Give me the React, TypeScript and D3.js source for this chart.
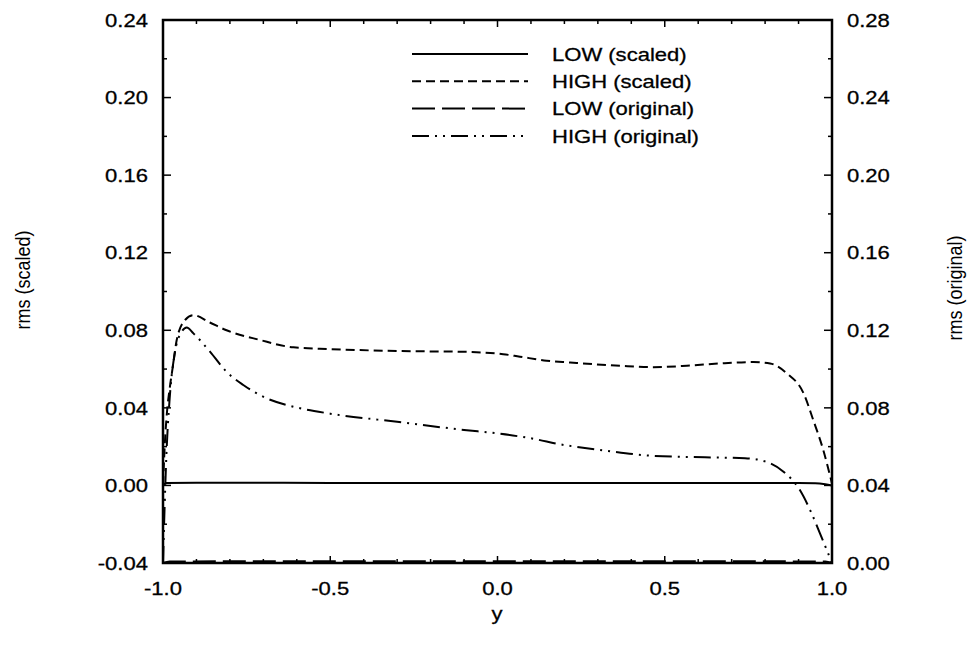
import React, { useEffect, useRef } from 'react'
import * as d3 from 'd3'

// wall-normal position and rms values
const lowScaledY = [-1, -0.99, -0.9, -0.5, 0, 0.5, 0.9, 0.95, 0.98, 1]
const lowScaledV = [0, 0.0012, 0.0014, 0.0013, 0.0012, 0.0012, 0.0012, 0.0011, 0.0006, 0]

const highScaledY = [-1, -0.995, -0.988, -0.98, -0.97, -0.959, -0.934, -0.909, -0.86, -0.81, -0.71, -0.61, -0.5, -0.3, -0.1, -0.05, 0.017, 0.067, 0.147, 0.217, 0.366, 0.466, 0.566, 0.665, 0.765, 0.815, 0.865, 0.915, 0.944, 0.974, 1.0]
const highScaledV = [0, 0.02, 0.038, 0.05, 0.062, 0.075, 0.0853, 0.0878, 0.084, 0.08, 0.075, 0.0712, 0.0703, 0.0693, 0.0689, 0.0686, 0.0677, 0.0664, 0.0643, 0.0634, 0.0617, 0.061, 0.0617, 0.0629, 0.0636, 0.0629, 0.0578, 0.0475, 0.0337, 0.0182, 0.001]

// these two are plotted against the right axis
const lowOrigY = [-1, -0.98, -0.5, 0, 0.5, 0.98, 1]
const lowOrigV = [0, 0.0008, 0.0009, 0.0009, 0.0009, 0.0008, 0]

const highOrigY = [-1, -0.995, -0.99, -0.98, -0.965, -0.945, -0.929, -0.909, -0.859, -0.81, -0.76, -0.69, -0.61, -0.5, -0.3, -0.1, 0, 0.1, 0.2, 0.25, 0.32, 0.47, 0.62, 0.74, 0.8, 0.855, 0.904, 0.939, 0.964, 1.0]
const highOrigV = [0, 0.03, 0.055, 0.085, 0.108, 0.119, 0.1215, 0.1184, 0.1089, 0.0986, 0.0918, 0.0849, 0.0806, 0.077, 0.0728, 0.0686, 0.0668, 0.0643, 0.0608, 0.0596, 0.058, 0.0552, 0.0545, 0.054, 0.0524, 0.0471, 0.0376, 0.0256, 0.0153, 0]

const xTicks = [-1.0, -0.5, 0.0, 0.5, 1.0]
const leftTicks = [-0.04, 0.0, 0.04, 0.08, 0.12, 0.16, 0.2, 0.24]
const rightTicks = [0.0, 0.04, 0.08, 0.12, 0.16, 0.2, 0.24, 0.28]

const legendLabels = ['LOW (scaled)', 'HIGH (scaled)', 'LOW (original)', 'HIGH (original)']

const FONT = '"Liberation Sans", Arial, Helvetica, sans-serif'
const STRETCH = 1.16
const FSIZE = 19

// plain hyphen for negatives, like the original plot
const fmt = (spec) => (v) => d3.format(spec)(v).replace('\u2212', '-')

export default function App() {
    const ref = useRef<SVGSVGElement>(null)

    useEffect(() => {
        const svg = d3.select(ref.current)
        svg.selectAll('*').remove()

        const left = 163, right = 832, top = 20, bottom = 563

        const x = d3.scaleLinear().domain([-1, 1]).range([left, right])
        const yL = d3.scaleLinear().domain([-0.04, 0.24]).range([bottom, top])
        const yR = d3.scaleLinear().domain([0, 0.28]).range([bottom, top])

        const series = [
            { ys: lowScaledY, vs: lowScaledV, scale: yL, dash: null },
            { ys: highScaledY, vs: highScaledV, scale: yL, dash: '9,5' },
            { ys: lowOrigY, vs: lowOrigV, scale: yR, dash: '23,7' },
            { ys: highOrigY, vs: highOrigV, scale: yR, dash: '17,6,2,6,2,6' },
        ]

        // ticks (inward), major and minor
        const xMinor = d3.range(-10, 11).map(i => i / 10).filter(v => Math.abs(v * 2 - Math.round(v * 2)) > 1e-6)
        const lMinor = d3.range(-2, 13).map(i => i * 0.02).filter((v, i) => i % 2 === 1)
        const rMinor = d3.range(0, 15).map(i => i * 0.02).filter((v, i) => i % 2 === 1)

        const ticks = svg.append('g').attr('stroke', '#000').attr('stroke-width', 1.5)
        const tick = (x1, y1, x2, y2) => ticks.append('line').attr('x1', x1).attr('y1', y1).attr('x2', x2).attr('y2', y2)

        xTicks.forEach(v => { tick(x(v), bottom, x(v), bottom - 7); tick(x(v), top, x(v), top + 7) })
        xMinor.forEach(v => { tick(x(v), bottom, x(v), bottom - 4); tick(x(v), top, x(v), top + 4) })
        leftTicks.forEach(v => tick(left, yL(v), left + 8, yL(v)))
        lMinor.forEach(v => tick(left, yL(v), left + 4, yL(v)))
        rightTicks.forEach(v => tick(right, yR(v), right - 8, yR(v)))
        rMinor.forEach(v => tick(right, yR(v), right - 4, yR(v)))

        // frame
        svg.append('rect')
            .attr('x', left).attr('y', top)
            .attr('width', right - left).attr('height', bottom - top)
            .attr('fill', 'none').attr('stroke', '#000').attr('stroke-width', 2.5)

        // curves
        series.forEach(s => {
            const line = d3.line<number>()
                .x(d => x(d))
                .y((d, i) => s.scale(s.vs[i]))
                .curve(d3.curveMonotoneX)
            svg.append('path')
                .attr('d', line(s.ys))
                .attr('fill', 'none')
                .attr('stroke', '#000')
                .attr('stroke-width', 2)
                .attr('stroke-dasharray', s.dash)
        })

        // text helper, horizontally stretched like the scan
        const label = (tx, ty, str, anchor, dy = null) =>
            svg.append('text')
                .attr('transform', `translate(${tx},${ty}) scale(${STRETCH},1)`)
                .attr('text-anchor', anchor)
                .attr('dy', dy)
                .attr('font-family', FONT)
                .attr('font-size', FSIZE)
                .attr('fill', '#000')
                .attr('stroke', '#000')
                .attr('stroke-width', 0.3)
                .text(str)

        xTicks.forEach(v => label(x(v), 595, fmt('.1f')(v), 'middle'))
        leftTicks.forEach(v => label(148, yL(v), fmt('.2f')(v), 'end', '0.35em'))
        rightTicks.forEach(v => label(847, yR(v), fmt('.2f')(v), 'start', '0.35em'))
        label(497, 620, 'y', 'middle')

        // rotated axis titles
        const vtitle = (tx, ty, str) =>
            svg.append('text')
                .attr('transform', `translate(${tx},${ty}) rotate(-90) scale(1,${STRETCH})`)
                .attr('text-anchor', 'middle')
                .attr('font-family', FONT)
                .attr('font-size', 18)
                .attr('fill', '#000')
                .text(str)
        vtitle(30, 280, 'rms (scaled)')
        vtitle(962, 288, 'rms (original)')

        // legend
        legendLabels.forEach((name, i) => {
            const ly = 54 + i * 27.3
            svg.append('line')
                .attr('x1', 412).attr('x2', 528)
                .attr('y1', ly).attr('y2', ly)
                .attr('stroke', '#000').attr('stroke-width', 2)
                .attr('stroke-dasharray', series[i].dash)
            label(552, ly, name, 'start', '0.35em')
        })
    }, [])

    return (
        <svg ref={ref} width={968} height={650}
            style={{ position: 'absolute', left: 0, top: 0, background: '#fff' }} />
    )
}
